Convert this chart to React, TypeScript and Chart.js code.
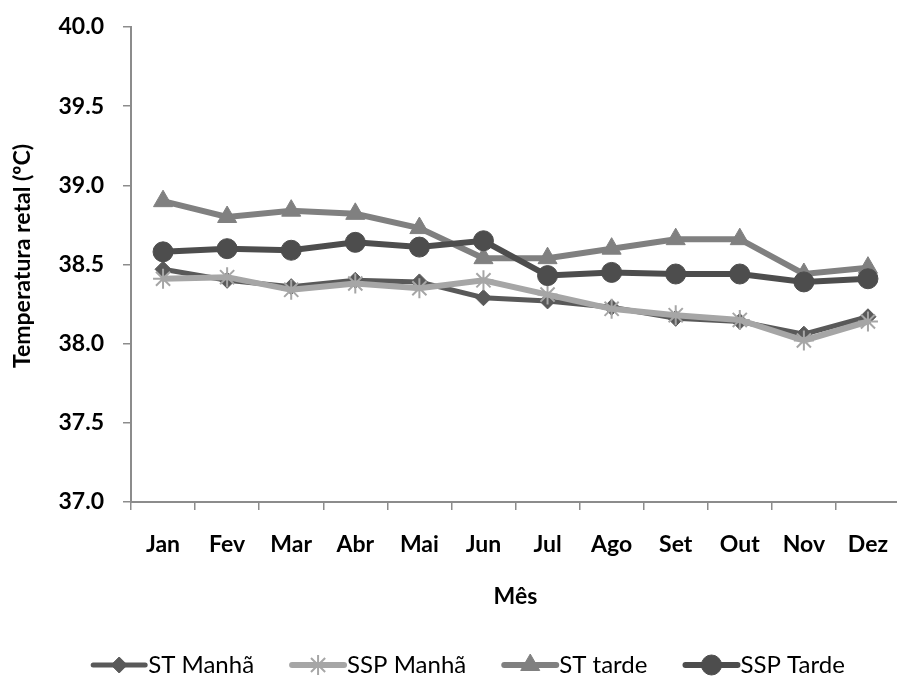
import React, { useEffect, useRef } from 'react';
import { Chart, registerables } from 'chart.js';
import { drawPoint } from 'chart.js/helpers';

Chart.register(...registerables);

const months = ['Jan', 'Fev', 'Mar', 'Abr', 'Mai', 'Jun', 'Jul', 'Ago', 'Set', 'Out', 'Nov', 'Dez'];
const stManha = [38.47, 38.40, 38.36, 38.40, 38.39, 38.29, 38.27, 38.23, 38.16, 38.14, 38.06, 38.17];
const sspManha = [38.41, 38.42, 38.34, 38.38, 38.35, 38.40, 38.31, 38.22, 38.18, 38.15, 38.02, 38.14];
const stTarde = [38.90, 38.80, 38.84, 38.82, 38.73, 38.54, 38.54, 38.60, 38.66, 38.66, 38.44, 38.48];
const sspTarde = [38.58, 38.60, 38.59, 38.64, 38.61, 38.65, 38.43, 38.45, 38.44, 38.44, 38.39, 38.41];
const seriesNames = ['ST Manhã', 'SSP Manhã', 'ST tarde', 'SSP Tarde'];
const yMin = 37.0;
const yMax = 40.0;
const yStep = 0.5;
const xTitle = 'Mês';
const yTitle = 'Temperatura retal (ºC)';

const FONT = 'Lato, "Open Sans", sans-serif';
const AXIS_SIZE = 23;
const LEGEND_SIZE = 24;

const yTitlePlugin = {
  id: 'yTitle',
  afterDraw(chart: any) {
    const ctx = chart.ctx;
    ctx.save();
    ctx.translate(23, 256);
    ctx.rotate(-Math.PI / 2);
    ctx.font = `bold ${AXIS_SIZE}px ${FONT}`;
    ctx.fillStyle = '#000';
    ctx.textAlign = 'center';
    ctx.textBaseline = 'middle';
    ctx.fillText(yTitle, 0, 0);
    ctx.restore();
  },
};

const legendPlugin = {
  id: 'lineLegend',
  afterDraw(chart: any) {
    const ctx = chart.ctx;
    const ds = chart.data.datasets;
    const lineLen = 52;
    const gap = 3;
    const spacing = 38;
    ctx.save();
    ctx.font = `${LEGEND_SIZE}px ${FONT}`;
    const widths = ds.map((d: any) => ctx.measureText(d.label).width);
    const total = widths.reduce((a: number, w: number) => a + lineLen + gap + w, 0) + spacing * (ds.length - 1);
    let x = 469 - total / 2;
    const y = 665;
    ds.forEach((d: any, i: number) => {
      ctx.strokeStyle = d.borderColor;
      ctx.lineWidth = d.borderWidth;
      ctx.lineCap = 'round';
      ctx.beginPath();
      ctx.moveTo(x, y);
      ctx.lineTo(x + lineLen, y);
      ctx.stroke();
      ctx.lineCap = 'butt';
      ctx.fillStyle = d.pointBackgroundColor;
      ctx.strokeStyle = d.pointBorderColor;
      ctx.lineWidth = d.pointBorderWidth;
      drawPoint(ctx, { pointStyle: d.pointStyle, radius: d.pointRadius, borderWidth: d.pointBorderWidth, rotation: 0 }, x + lineLen / 2, y);
      ctx.fillStyle = '#000';
      ctx.textAlign = 'left';
      ctx.textBaseline = 'middle';
      ctx.font = `${LEGEND_SIZE}px ${FONT}`;
      ctx.fillText(d.label, x + lineLen + gap, y);
      x += lineLen + gap + widths[i] + spacing;
    });
    ctx.restore();
  },
};

export default function App() {
  const ref = useRef<HTMLCanvasElement>(null);
  useEffect(() => {
    if (!ref.current) return;
    const mk = (label: string, data: number[], color: string, style: string, radius: number, bw: number, lw: number, order: number) => ({
      label,
      data,
      borderColor: color,
      backgroundColor: color,
      borderWidth: lw,
      pointStyle: style,
      pointRadius: radius,
      pointHoverRadius: radius,
      pointBackgroundColor: color,
      pointBorderColor: color,
      pointBorderWidth: bw,
      tension: 0,
      order,
    });
    const axisFont = { family: FONT, size: AXIS_SIZE, weight: 'bold' };
    const chart = new Chart(ref.current, {
      type: 'line',
      data: {
        labels: months,
        datasets: [
          mk(seriesNames[0], stManha, '#595959', 'rectRot', 8, 1, 5, 4),
          mk(seriesNames[1], sspManha, '#a6a6a6', 'star', 10, 2, 6, 3),
          mk(seriesNames[2], stTarde, '#808080', 'triangle', 11, 1, 6, 2),
          mk(seriesNames[3], sspTarde, '#4d4d4d', 'circle', 10, 1, 6, 1),
        ] as any,
      },
      options: {
        animation: false,
        responsive: false,
        events: [],
        layout: { padding: { left: 0, right: 3, top: 27, bottom: 60 } },
        plugins: { legend: { display: false }, tooltip: { enabled: false } },
        scales: {
          x: {
            offset: true,
            grid: { drawOnChartArea: false, drawTicks: true, tickLength: 8, color: '#8c8c8c', lineWidth: 1.5, offset: true },
            border: { color: '#8c8c8c', width: 2 },
            ticks: { color: '#000', padding: 21, font: axisFont, maxRotation: 0, autoSkip: false },
            title: { display: true, text: xTitle, color: '#000', font: axisFont, padding: { top: 0, bottom: 7 } },
            afterFit: (s: any) => { s.height = 115; s.paddingLeft = 0; s.paddingRight = 0; },
          },
          y: {
            min: yMin,
            max: yMax,
            grid: { drawOnChartArea: false, drawTicks: true, tickLength: 8, color: '#8c8c8c', lineWidth: 1.5 },
            border: { color: '#8c8c8c', width: 2 },
            ticks: { stepSize: yStep, color: '#000', padding: 19, font: axisFont, callback: (v: any) => Number(v).toFixed(1) },
            title: { display: false },
            afterFit: (s: any) => { s.width = 131; s.paddingTop = 0; s.paddingBottom = 0; },
          },
        },
      } as any,
      plugins: [yTitlePlugin, legendPlugin],
    });
    return () => chart.destroy();
  }, []);
  return (
    <div style={{ position: 'fixed', left: 0, top: 0, width: 897, height: 677, overflow: 'hidden', background: '#fff' }}>
      <canvas ref={ref} width={912} height={677} style={{ display: 'block', width: 912, height: 677 }} />
    </div>
  );
}
